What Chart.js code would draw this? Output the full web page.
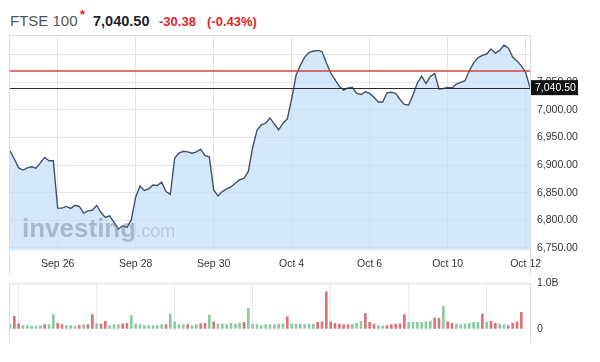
<!DOCTYPE html>
<html>
<head>
<meta charset="utf-8">
<script src="https://cdn.jsdelivr.net/npm/chart.js@4.4.0/dist/chart.umd.min.js"></script>
<style>
  body { margin: 0; width: 600px; height: 362px; position: relative; background: #fff; overflow: hidden; font-family: 'Liberation Sans', Arial, sans-serif; }
  .hd { position: absolute; line-height: 1; white-space: nowrap; }
  canvas { position: absolute; left: 0; }
</style>
</head>
<body>
<span class="hd" style="left:10px;top:13px;font-size:15px;color:#555">FTSE 100</span>
<span class="hd" style="left:80px;top:8px;font-size:13px;font-weight:bold;color:#e0262b">*</span>
<span class="hd" style="left:93px;top:14px;font-size:14.5px;font-weight:bold;color:#222">7,040.50</span>
<span class="hd" style="left:159px;top:15px;font-size:13px;font-weight:bold;color:#e0262b">-30.38</span>
<span class="hd" style="left:207px;top:15px;font-size:13px;font-weight:bold;color:#e0262b">(-0.43%)</span>

<canvas id="price" width="600" height="275" style="top:0"></canvas>
<canvas id="vol" width="600" height="72" style="top:270px"></canvas>

<script>
const FONT = "'Liberation Sans', Arial, sans-serif";

// hourly FTSE 100 closes, Sep 23 - Oct 12
const price = [6926, 6911, 6895, 6891, 6895, 6897, 6894.5, 6904, 6914, 6908, 6908,
  6822, 6822, 6825, 6821.5, 6827, 6825, 6813, 6817, 6818, 6827, 6814, 6805, 6808, 6796, 6784, 6790, 6787, 6801,
  6842, 6862, 6854, 6857, 6864, 6863, 6869, 6852, 6847,
  6913, 6922, 6925, 6924, 6921.5, 6924, 6929, 6917, 6915,
  6855, 6844, 6852, 6857, 6860.5, 6867, 6873.5, 6876, 6888.5, 6932, 6963, 6973, 6976, 6985.5, 6974.5, 6964, 6976, 6984,
  7020, 7062.5, 7081, 7096, 7104, 7107, 7108, 7106, 7085.5, 7067, 7055, 7043, 7036, 7040, 7041, 7030, 7028, 7033,
  7030, 7023, 7014.5, 7014.5, 7031, 7032, 7030, 7019, 7010, 7009, 7027, 7049, 7061.5, 7048, 7061, 7066, 7038, 7039,
  7041, 7040, 7047, 7050, 7053, 7071, 7085.5, 7094.5, 7099, 7101.5, 7110.5, 7103, 7108, 7117.5, 7112.5, 7096, 7089,
  7080, 7068, 7040.5];

// volume in billions
const vol = [0.11, 0.27, 0.11, 0.07, 0.07, 0.06, 0.06, 0.07, 0.09, 0.09, 0.31,
  0.12, 0.09, 0.07, 0.07, 0.06, 0.07, 0.09, 0.09, 0.31,
  0.11, 0.10, 0.16, 0.07, 0.09, 0.09, 0.11, 0.12, 0.29,
  0.11, 0.09, 0.07, 0.07, 0.07, 0.07, 0.09, 0.09, 0.32,
  0.15, 0.09, 0.09, 0.09, 0.07, 0.09, 0.11, 0.12, 0.30,
  0.15, 0.11, 0.10, 0.09, 0.12, 0.10, 0.12, 0.14, 0.45,
  0.10, 0.09, 0.07, 0.09, 0.09, 0.09, 0.10, 0.11, 0.26,
  0.11, 0.10, 0.10, 0.09, 0.10, 0.10, 0.14, 0.15, 0.81,
  0.15, 0.12, 0.10, 0.09, 0.09, 0.10, 0.12, 0.16, 0.34,
  0.14, 0.10, 0.07, 0.06, 0.07, 0.09, 0.10, 0.11, 0.31,
  0.14, 0.14, 0.14, 0.14, 0.15, 0.17, 0.24, 0.23, 0.49,
  0.15, 0.12, 0.10, 0.09, 0.10, 0.12, 0.14, 0.14, 0.32,
  0.14, 0.16, 0.12, 0.10, 0.09, 0.07, 0.12, 0.15, 0.36];

// u = up bar, d = down bar
const volDir = ('udduuuuuduu' + 'dduuududd' + 'udduuuddu' + 'uuuuuuudu' + 'uuuduuddu' +
  'duuuuuudu' + 'uuuuuuuud' + 'uuuuuuddd' + 'ddddduuud' + 'dduuddddd' +
  'uuuuuuddu' + 'dduuuuuud' + 'udduudddd').split('');

const dateLabels = ['Sep 26', 'Sep 28', 'Sep 30', 'Oct 4', 'Oct 6', 'Oct 10', 'Oct 12'];
const dateIdx = [11, 29, 47, 65, 83, 101, 119];
const yTicks = [6750, 6800, 6850, 6900, 6950, 7000, 7050, 7100];
const prevClose = 7070.88;
const lastPrice = 7040.50;

const labels = price.map((_, i) => i);

const frame = {
  id: 'frame',
  afterDraw(chart) {
    const { ctx, chartArea: a } = chart;
    ctx.save();
    ctx.strokeStyle = '#dcdcdc';
    ctx.lineWidth = 1;
    ctx.beginPath();
    ctx.moveTo(a.left - 0.5, a.top + 0.5);
    ctx.lineTo(a.right + 0.5, a.top + 0.5);
    ctx.moveTo(a.left - 0.5, a.top);
    ctx.lineTo(a.left - 0.5, chart.height);
    ctx.moveTo(a.right + 0.5, a.top);
    ctx.lineTo(a.right + 0.5, chart.height);
    ctx.stroke();
    ctx.restore();
  }
};

const refLines = {
  id: 'refLines',
  afterDatasetsDraw(chart) {
    const { ctx, chartArea: a, scales: { y } } = chart;
    ctx.save();
    let yp = Math.round(y.getPixelForValue(prevClose));
    ctx.fillStyle = 'rgba(214,52,44,0.9)';
    ctx.fillRect(a.left, yp - 0.75, a.right - a.left, 1.5);
    yp = Math.round(y.getPixelForValue(lastPrice)) + 0.5;
    ctx.lineWidth = 1;
    ctx.strokeStyle = '#2b2b2b';
    ctx.beginPath(); ctx.moveTo(a.left, yp); ctx.lineTo(a.right, yp); ctx.stroke();
    // watermark
    ctx.font = 'bold 26px ' + FONT;
    ctx.fillStyle = 'rgba(105,118,140,0.42)';
    ctx.textBaseline = 'alphabetic';
    ctx.fillText('investing', a.left + 12, 237);
    const w = ctx.measureText('investing').width;
    ctx.font = '18px ' + FONT;
    ctx.fillStyle = 'rgba(105,118,140,0.28)';
    ctx.fillText('.com', a.left + 12 + w, 237);
    ctx.restore();
  },
  afterDraw(chart) {
    const { ctx, chartArea: a, scales: { y } } = chart;
    const yp = y.getPixelForValue(lastPrice);
    ctx.save();
    ctx.fillStyle = '#111';
    ctx.fillRect(a.right + 1, yp - 7.5, 47, 15);
    ctx.fillStyle = '#fff';
    ctx.font = '10.5px ' + FONT;
    ctx.textBaseline = 'middle';
    ctx.fillText(lastPrice.toLocaleString('en-US', { minimumFractionDigits: 2 }), a.right + 5, yp + 0.5);
    ctx.restore();
  }
};

new Chart(document.getElementById('price'), {
  type: 'line',
  data: {
    labels: labels,
    datasets: [{
      data: price,
      borderColor: '#465066',
      borderWidth: 1.4,
      backgroundColor: 'rgba(195,222,250,0.7)',
      fill: 'start',
      pointRadius: 0,
      tension: 0
    }]
  },
  options: {
    responsive: false,
    animation: false,
    layout: { padding: { top: 35, left: 10, right: 0, bottom: 0 } },
    plugins: { legend: { display: false }, tooltip: { enabled: false } },
    scales: {
      x: {
        type: 'category',
        grid: { color: '#e4e4e4', drawTicks: false },
        border: { display: false },
        ticks: {
          autoSkip: false, maxRotation: 0, padding: 8, color: '#333',
          font: { family: FONT, size: 10.5 },
          callback: (v) => dateLabels[dateIdx.indexOf(v)]
        },
        afterBuildTicks: (s) => { s.ticks = dateIdx.map(v => ({ value: v })); },
        afterFit: (s) => { s.height = 25; }
      },
      y: {
        position: 'right',
        min: 6746,
        max: 7136,
        grid: { color: '#e4e4e4', drawTicks: false },
        border: { display: false },
        ticks: {
          padding: 7, color: '#333',
          font: { family: FONT, size: 10.5 },
          callback: (v) => v === 7100 ? '' : v.toLocaleString('en-US', { minimumFractionDigits: 2 })
        },
        afterBuildTicks: (s) => { s.ticks = yTicks.map(v => ({ value: v })); },
        afterFit: (s) => { s.width = 70; }
      }
    }
  },
  plugins: [refLines, frame]
});

new Chart(document.getElementById('vol'), {
  type: 'bar',
  data: {
    labels: labels,
    datasets: [{
      data: vol,
      backgroundColor: volDir.map(d => d === 'u' ? '#8ccaa2' : '#d9737c'),
      barThickness: 2
    }]
  },
  options: {
    responsive: false,
    animation: false,
    layout: { padding: { top: 5, left: 10, right: 0, bottom: 0 } },
    plugins: { legend: { display: false }, tooltip: { enabled: false } },
    scales: {
      x: {
        type: 'category',
        offset: false,
        grid: { color: '#e8e8e8', drawTicks: false },
        border: { display: false },
        ticks: { display: false },
        afterBuildTicks: (s) => { s.ticks = dateIdx.map(v => ({ value: v })); },
        afterFit: (s) => { s.height = 11; }
      },
      y: {
        position: 'right',
        min: 0,
        max: 1,
        grid: { display: false, drawTicks: false },
        border: { display: false },
        ticks: {
          padding: 7, color: '#333',
          font: { family: FONT, size: 10.5 },
          callback: (v) => v === 1 ? '1.0B' : '0'
        },
        afterBuildTicks: (s) => { s.ticks = [{ value: 0 }, { value: 1 }]; },
        afterFit: (s) => { s.width = 70; }
      }
    }
  },
  plugins: [frame]
});
</script>
</body>
</html>
